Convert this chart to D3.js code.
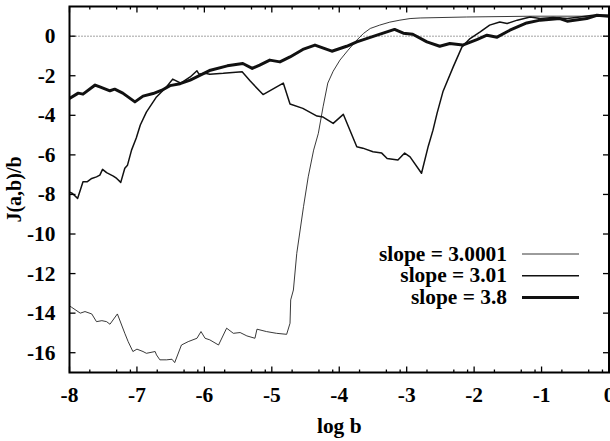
<!DOCTYPE html>
<html>
<head>
<meta charset="utf-8">
<script src="https://cdn.jsdelivr.net/npm/d3@7"></script>
<style>
  body { margin: 0; background: #fff; }
  text { font-family: "Liberation Serif", "Times New Roman", serif; font-weight: bold; }
</style>
</head>
<body>
<div id="chart"></div>
<script>
// data: [log b, J(a,b)/b]
const slope30001 = [
  [-8.00,-13.64],[-7.97,-13.70],[-7.84,-14.00],[-7.77,-13.92],[-7.67,-14.04],[-7.60,-14.43],
  [-7.52,-14.38],[-7.45,-14.43],[-7.40,-14.56],[-7.29,-14.04],[-7.18,-15.02],[-7.13,-15.44],
  [-7.06,-15.94],[-7.00,-15.82],[-6.91,-15.94],[-6.86,-16.03],[-6.73,-15.94],[-6.71,-16.11],
  [-6.66,-16.36],[-6.56,-16.36],[-6.48,-16.33],[-6.44,-16.50],[-6.34,-15.61],[-6.24,-15.44],
  [-6.11,-15.27],[-6.05,-14.93],[-5.99,-15.27],[-5.92,-15.35],[-5.79,-15.61],[-5.67,-14.76],
  [-5.57,-15.02],[-5.47,-14.98],[-5.37,-15.15],[-5.25,-15.27],[-5.22,-14.81],[-5.08,-14.93],
  [-4.93,-15.02],[-4.78,-15.07],[-4.73,-14.51],[-4.72,-13.33],[-4.68,-12.83],[-4.63,-10.98],
  [-4.53,-8.62],[-4.46,-7.11],[-4.38,-5.76],[-4.31,-4.91],[-4.24,-3.57],[-4.17,-2.37],
  [-4.09,-1.77],[-3.99,-1.21],[-3.87,-0.71],[-3.74,-0.20],[-3.64,0.14],[-3.54,0.39],
  [-3.40,0.56],[-3.25,0.71],[-3.10,0.81],[-2.95,0.89],[-2.80,0.92],[-2.11,0.97],
  [-1.13,1.01],[0.00,1.01]
];
const slope301 = [
  [-8.00,-7.88],[-7.96,-7.94],[-7.88,-8.20],[-7.80,-7.36],[-7.74,-7.36],[-7.67,-7.19],
  [-7.60,-7.11],[-7.55,-7.02],[-7.51,-6.73],[-7.45,-6.90],[-7.35,-7.07],[-7.30,-7.19],
  [-7.24,-7.39],[-7.18,-6.68],[-7.14,-6.52],[-7.08,-5.76],[-7.01,-5.15],[-6.95,-4.49],
  [-6.86,-3.84],[-6.71,-3.07],[-6.56,-2.56],[-6.47,-2.17],[-6.35,-2.37],[-6.21,-2.06],
  [-6.11,-1.75],[-6.08,-1.92],[-5.99,-1.87],[-5.92,-1.92],[-5.72,-1.88],[-5.58,-1.83],
  [-5.44,-1.80],[-5.32,-2.27],[-5.13,-2.95],[-4.83,-2.37],[-4.73,-3.43],[-4.54,-3.65],
  [-4.33,-4.04],[-4.24,-4.09],[-4.09,-4.41],[-3.94,-3.95],[-3.80,-5.10],[-3.74,-5.59],
  [-3.65,-5.66],[-3.50,-5.84],[-3.37,-5.91],[-3.29,-6.18],[-3.13,-6.26],[-3.03,-5.91],
  [-2.95,-6.10],[-2.78,-6.93],[-2.68,-5.56],[-2.61,-4.75],[-2.55,-3.90],[-2.46,-2.78],
  [-2.31,-1.55],[-2.18,-0.54],[-2.06,-0.12],[-1.91,0.22],[-1.77,0.56],[-1.62,0.72],
  [-1.51,0.64],[-1.36,0.81],[-1.17,0.97],[-1.02,0.89],[-0.83,0.94],[-0.62,0.89],
  [-0.43,0.97],[-0.24,1.06],[0.00,1.06]
];
const slope38 = [
  [-8.00,-3.15],[-7.87,-2.88],[-7.80,-2.93],[-7.62,-2.47],[-7.55,-2.56],[-7.40,-2.76],
  [-7.33,-2.68],[-7.21,-2.88],[-7.03,-3.32],[-6.91,-3.03],[-6.76,-2.90],[-6.63,-2.73],
  [-6.51,-2.50],[-6.36,-2.40],[-6.21,-2.22],[-6.06,-1.97],[-5.91,-1.72],[-5.66,-1.50],
  [-5.43,-1.38],[-5.29,-1.63],[-5.18,-1.46],[-5.03,-1.21],[-4.88,-1.30],[-4.73,-1.05],
  [-4.54,-0.67],[-4.36,-0.45],[-4.11,-0.76],[-3.89,-0.51],[-3.74,-0.29],[-3.44,0.05],
  [-3.18,0.34],[-3.05,0.15],[-2.91,0.10],[-2.70,-0.29],[-2.51,-0.51],[-2.36,-0.37],
  [-2.17,-0.45],[-1.96,-0.17],[-1.81,0.05],[-1.66,-0.05],[-1.47,0.30],[-1.22,0.67],
  [-1.02,0.81],[-0.73,0.89],[-0.62,0.76],[-0.33,0.89],[-0.18,1.06],[0.00,1.01]
];

const seriesNames = ["slope = 3.0001", "slope = 3.01", "slope = 3.8"];
const xTicks = [-8, -7, -6, -5, -4, -3, -2, -1, 0];
const yTicks = [-16, -14, -12, -10, -8, -6, -4, -2, 0];
const minorOffsets = [Math.log10(2), Math.log10(5), Math.log10(8)];

const W = 610, H = 441;
const margin = {top: 6.5, right: 1, bottom: 68.5, left: 69.5},
    width = W - margin.left - margin.right,
    height = H - margin.top - margin.bottom;
const stretch = 1.07; // the original lettering is a bit wider than Liberation

const svg = d3.select("#chart")
  .append("svg")
    .attr("width", W)
    .attr("height", H);

const g = svg.append("g")
    .attr("transform", `translate(${margin.left}, ${margin.top})`);

const x = d3.scaleLinear().domain([-8, 0]).range([0, width]);
const y = d3.scaleLinear().domain([-17, 1.5]).range([height, 0]);

svg.append("defs").append("clipPath").attr("id", "clip")
  .append("rect").attr("width", width).attr("height", height);

function label(parent, tx, ty, str, anchor) {
  return parent.append("text")
    .attr("transform", `translate(${tx}, ${ty}) scale(${stretch}, 1)`)
    .attr("text-anchor", anchor)
    .attr("font-size", 20)
    .text(str);
}

// zero line
g.append("line")
  .attr("x1", 0).attr("x2", width)
  .attr("y1", y(0)).attr("y2", y(0))
  .attr("stroke", "#444").attr("stroke-width", 1)
  .attr("stroke-dasharray", "1,2");

// curves
const line = d3.line().x(d => x(d[0])).y(d => y(d[1]));
const styles = [
  {w: 0.9, c: "#222"},
  {w: 1.5, c: "#111"},
  {w: 3, c: "#111"}
];
const seriesData = [slope30001, slope301, slope38];

const plot = g.append("g").attr("clip-path", "url(#clip)");
seriesData.forEach((s, i) => {
  plot.append("path")
    .datum(s)
    .attr("fill", "none")
    .attr("stroke", styles[i].c)
    .attr("stroke-width", styles[i].w)
    .attr("stroke-linejoin", "round")
    .attr("d", line);
});

// ticks (inward, mirrored)
const minorTicks = [];
xTicks.slice(0, -1).forEach(t => minorOffsets.forEach(o => minorTicks.push(t + o)));

const tickG = g.append("g").attr("stroke", "#000").attr("stroke-width", 1.3);
xTicks.forEach(t => {
  tickG.append("line").attr("x1", x(t)).attr("x2", x(t)).attr("y1", height).attr("y2", height - 6);
  tickG.append("line").attr("x1", x(t)).attr("x2", x(t)).attr("y1", 0).attr("y2", 6);
});
minorTicks.forEach(t => {
  tickG.append("line").attr("x1", x(t)).attr("x2", x(t)).attr("y1", height).attr("y2", height - 3);
  tickG.append("line").attr("x1", x(t)).attr("x2", x(t)).attr("y1", 0).attr("y2", 3);
});
yTicks.forEach(t => {
  tickG.append("line").attr("x1", 0).attr("x2", 6).attr("y1", y(t)).attr("y2", y(t));
  tickG.append("line").attr("x1", width).attr("x2", width - 6).attr("y1", y(t)).attr("y2", y(t));
});

// frame
g.append("rect")
  .attr("width", width).attr("height", height)
  .attr("fill", "none").attr("stroke", "#000").attr("stroke-width", 2);

// tick labels
xTicks.forEach(t => label(g, x(t), height + 29.5, t, "middle"));
yTicks.forEach(t => label(g, -14, y(t) + 7, t, "end"));

// axis titles
label(svg, margin.left + width / 2, 433, "log b", "middle");
svg.append("text")
  .attr("transform", `translate(21, ${margin.top + height / 2}) rotate(-90) scale(1, ${stretch})`)
  .attr("text-anchor", "middle").attr("font-size", 20)
  .text("J(a,b)/b");

// legend
const legend = svg.append("g").attr("transform", "translate(507, 254)");
seriesNames.forEach((name, i) => {
  const row = legend.append("g").attr("transform", `translate(0, ${i * 21.8})`);
  label(row, 0, 6.6, name, "end");
  row.append("line").attr("x1", 15).attr("x2", 72).attr("y1", 0).attr("y2", 0)
    .attr("stroke", styles[i].c).attr("stroke-width", styles[i].w);
});
</script>
</body>
</html>
